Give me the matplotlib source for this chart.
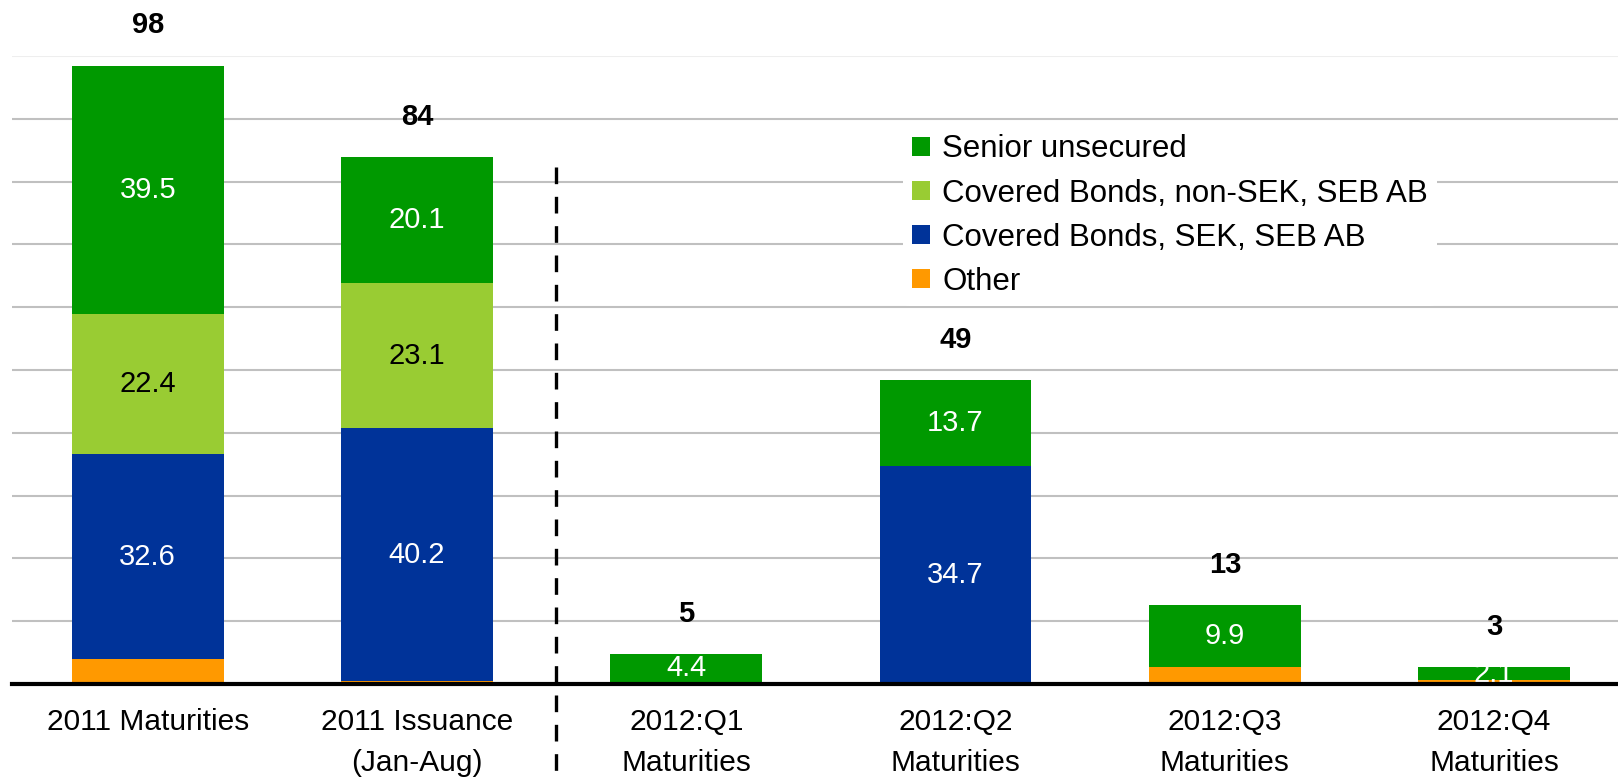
import matplotlib.pyplot as plt
import numpy as np

# Данные графика
categories = ['2011 Maturities', '2011 Issuance\n(Jan-Aug)', '2012:Q1\nMaturities',
              '2012:Q2\nMaturities', '2012:Q3\nMaturities', '2012:Q4\nMaturities']
other = [4.0, 0.5, 0.3, 0.0, 2.7, 0.6]
covered_sek = [32.6, 40.2, 0.0, 34.7, 0.0, 0.0]
covered_non_sek = [22.4, 23.1, 0.0, 0.0, 0.0, 0.0]
senior = [39.5, 20.1, 4.4, 13.7, 9.9, 2.1]
totals = ['98', '84', '5', '49', '13', '3']

series = [
    ('Other', other, '#FF9900', None),
    ('Covered Bonds, SEK, SEB AB', covered_sek, '#003399', 'white'),
    ('Covered Bonds, non-SEK, SEB AB', covered_non_sek, '#99CC33', 'black'),
    ('Senior unsecured', senior, '#009900', 'white'),
]

plt.rcParams['font.family'] = ['Liberation Sans', 'DejaVu Sans']

fig = plt.figure(figsize=(16.18, 7.79), dpi=100)
ax = fig.add_axes([0.0074, 0.122, 0.9926, 0.806])

x = np.arange(len(categories))
width = 0.564
bottom = np.zeros(len(categories))
handles = {}
for name, vals, color, txt_color in series:
    vals = np.array(vals)
    bars = ax.bar(x, vals, width, bottom=bottom, color=color, zorder=3)
    handles[name] = bars
    if txt_color is not None:
        for xi, b, v in zip(x, bottom, vals):
            if v > 0:
                ax.text(xi, b + v / 2, f'{v:.1f}', ha='center', va='center',
                        color=txt_color, fontsize=21, zorder=4)
    bottom = bottom + vals

# Итоговые значения над столбцами
for xi, top, t in zip(x, bottom, totals):
    ax.annotate(t, (xi, top), xytext=(0, 29), textcoords='offset points',
                ha='center', va='center', fontsize=21, fontweight='bold',
                annotation_clip=False)

ax.set_xlim(-0.504, 5.46)
ax.set_ylim(0, 100)
for gy in range(10, 100, 10):
    ax.axhline(gy, color='#C0C0C0', lw=1.5, zorder=1)
ax.axhline(100, color='#EEEEEE', lw=1.5, zorder=1)
ax.axhline(0, color='black', lw=3, zorder=5, clip_on=False)

for s in ax.spines.values():
    s.set_visible(False)
ax.set_yticks([])
ax.set_xticks(x)
ax.set_xticklabels(categories, fontsize=21.5, linespacing=1.62)
ax.tick_params(axis='x', length=0, pad=17)

# Пунктирная разделительная линия
ax.plot([1.517, 1.517], [82.3, -16], color='black', lw=2.4, ls=(0, (5, 3.8)),
        clip_on=False, zorder=6)

order = ['Senior unsecured', 'Covered Bonds, non-SEK, SEB AB',
         'Covered Bonds, SEK, SEB AB', 'Other']
leg = ax.legend([handles[n] for n in order], order, loc='upper left',
                bbox_to_anchor=(0.545, 0.915), fontsize=22.5, frameon=True,
                handlelength=0.58, handleheight=0.58, handletextpad=0.38,
                labelspacing=0.45, borderpad=0.3)
leg.get_frame().set_edgecolor('none')
leg.get_frame().set_facecolor('white')
leg.get_frame().set_alpha(1)
leg.set_zorder(2)

fig.savefig('out.png', dpi=100)
